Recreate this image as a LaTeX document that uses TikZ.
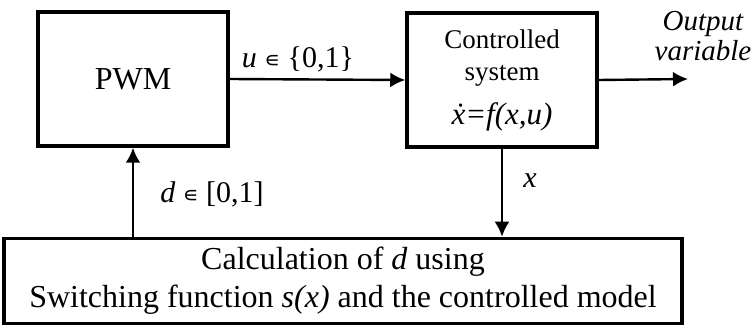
\documentclass[tikz,border=0pt]{standalone}
\usepackage{fontspec}
\setmainfont{Liberation Serif}
\newfontfamily\symfont{DejaVu Sans}
\usetikzlibrary{arrows.meta, positioning}
\newcommand{\fsz}[2]{\fontsize{#1pt}{#2pt}\selectfont}
\newcommand{\elem}{{\symfont\fontsize{22pt}{22pt}\selectfont ∊}}

\begin{document}
\begin{tikzpicture}[
  x=1pt, y=-1pt,
  every node/.style = {inner sep=0pt},
  block/.style = {draw, line width=3.5pt, align=center},
  sig/.style = {->, line width=2.4pt},
  lbl/.style = {font=\fsz{30}{34}},
  >={Latex[length=15pt, width=15pt]}
]
  \useasboundingbox (0,0) rectangle (753,326);

  \node[block, minimum width=190pt, minimum height=134pt, font=\fsz{32}{38}] (pwm) at (133,79) {PWM};
  \node[block, minimum width=190pt, minimum height=134pt, font=\fsz{27}{32}] (sys) at (502,80)
    {Controlled\\system\\[12pt]{\fsz{31}{34}\textit{\.x=f(x,u)}}};
  \node[block, minimum width=678pt, minimum height=85pt, font=\fsz{32}{38}] (calc) at (343,281)
    {Calculation of \textit{d} using\\Switching function \textit{s(x)} and the controlled model};

  \coordinate (out) at (688,79);

  \draw[sig] (pwm.east) -- (sys.west);
  \node[lbl, anchor=base] (ulbl) at (298,68) {\textit{u} \elem\ \{0,1\}};

  \draw[sig] (sys.east) -- (out);
  \node[lbl, align=center, font=\fsz{29}{30}\itshape] (outlbl) at (703,36) {Output\\variable};

  \draw[sig] (sys.south) -- (sys.south |- calc.north);
  \node[lbl, anchor=base] (xlbl) at (530,188) {\textit{x}};

  \draw[sig] (pwm.south |- calc.north) -- (pwm.south);
  \node[lbl, anchor=base] (dlbl) at (212,203) {\textit{d} \elem\ [0,1]};
\end{tikzpicture}
\end{document}
